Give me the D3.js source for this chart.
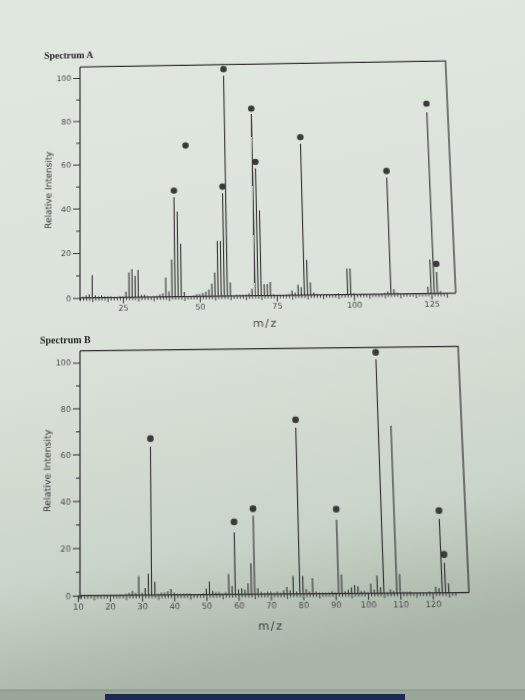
<!DOCTYPE html>
<html><head><meta charset="utf-8">
<script src="https://cdn.jsdelivr.net/npm/d3@7/dist/d3.min.js"></script>
<style>
html,body{margin:0;padding:0;background:#d8dfd6;overflow:hidden;}
#bgsvg,#c{position:absolute;left:0;top:0;}
#c{transform-origin:0 0;}
</style>
</head><body>
<svg id="bgsvg" width="525" height="700"></svg>
<svg id="c" width="525" height="700"></svg>
<script>
// ---------- DATA ----------
const titleA = "Spectrum A";
const mzA  = [12,13,14,15,16,17,18,19,20,21,24,25,26,27,28,29,30,31,32,33,35,36,37,38,39,40,41,42,43,44,45,48,49,50,51,52,53,54,55,56,57,58,59,60,62,63,64,65,66,67,68,69,70,71,72,73,74,79,80,81,82,83,84,85,86,87,88,95,98,99,100,110,111,112,113,114,124,125,126,127,128];
const intA = [0.5,1,1.5,10,1,0.5,1,0.5,0.5,0.5,0.5,0.5,2.5,11,12.5,9.5,12,1,1,0.5,0.5,0.5,1,1.5,8.5,2.3,16.5,44.5,38,23.5,2,0.5,1,1,1.5,2,3,5.5,10.5,24.5,24.5,46,100,6,0.5,0.5,0.5,0.5,1,3,82,57,38,5,5,6,0.5,0.5,2,1,4.5,3.5,68,15.5,5.5,1,0.5,0.5,11.5,11.5,0.5,0.5,1,52,2,0.5,3,15,81.5,9.5,1];
const dotMzA  = [42,46,58,59,68,69,84,112,126,127];
const dotIntA = [47.5,68,49,103,84.5,60,71,55,85.5,13];
const xTicksA = [25,50,75,100,125];

const titleB = "Spectrum B";
const mzB  = [25,26,27,28,29,30,31,32,33,34,35,36,37,38,39,40,41,42,43,44,45,49,50,51,52,53,54,55,56,57,58,59,60,61,62,63,64,65,66,67,68,69,70,71,72,73,74,75,76,77,78,79,80,81,82,83,84,85,86,87,88,89,90,91,92,93,94,95,96,97,98,99,100,101,102,103,104,105,106,107,108,109,110,111,112,113,119,121,122,123,124,125];
const intB = [0.5,1,1.8,1,8,1,3,9,63,5.5,0.5,1,1,1.5,2.5,1,0.5,0.5,0.5,0.5,0.5,0.5,2.5,5.5,1.5,1,1,0.5,1,8.5,3.5,26,2,2.5,2,4.5,13,33,2.5,1,0.5,1,1,0.5,1,0.5,1.5,3,1.5,7.5,1,70.5,7.5,2,1,6.5,1,0.5,0.5,0.5,0.5,1,0.5,31,8,1,1.5,2.5,3.5,3,1,1,0.5,4,1.5,7.5,2.5,100,0.5,1.5,1,71,8,0.5,0.5,0.5,0.5,2.5,2,31,12.5,4];
const dotMzB  = [33,59,65,79,91,105,123,124];
const dotIntB = [66.5,30.5,36,74,35.5,103,34.5,16];
const xTicksB = [10,20,30,40,50,60,70,80,90,100,110,120];

const yTicks = [0,20,40,60,80,100];
const yMinorTicks = [10,30,50,70,90];
const xLabel = "m/z";
const yLabel = "Relative Intensity";

// ---------- PHOTO BACKGROUND ----------
const bg = d3.select("#bgsvg");
const bdefs = bg.append("defs");
const grad = bdefs.append("linearGradient").attr("id","bg").attr("x1","0").attr("y1","0").attr("x2","0.15").attr("y2","1");
[["0","#e1e8e0"],["0.5","#dbe2d9"],["0.82","#cbd4ca"],["1","#a9b5a8"]].forEach(s=>grad.append("stop").attr("offset",s[0]).attr("stop-color",s[1]));
bg.append("rect").attr("width",525).attr("height",700).attr("fill","url(#bg)");
bg.append("rect").attr("x",0).attr("y",690).attr("width",525).attr("height",10).attr("fill","#9aa69a");
bg.append("line").attr("x1",0).attr("x2",525).attr("y1",690).attr("y2",690).attr("stroke","#7f8a80").attr("stroke-width",0.8);
bg.append("rect").attr("x",105).attr("y",694).attr("width",300).attr("height",6).attr("fill","#1d2a55");

// ---------- CHART (flat page, then photographed with perspective) ----------
const svg = d3.select("#c");
const ink = "#2f2f2f";

function panel(cfg){
  const g = svg.append("g");
  const x = d3.scaleLinear().domain(cfg.xDomain).range([cfg.left, cfg.right]);
  const y = d3.scaleLinear().domain([0,100]).range([cfg.base, cfg.y100]);

  g.append("text").attr("x", cfg.titleX).attr("y", cfg.titleY)
    .attr("font-family","Liberation Serif, Times New Roman, serif").attr("font-size",10)
    .attr("font-weight","bold").attr("fill","#262626").text(cfg.title);

  g.append("path")
    .attr("d", `M${cfg.left},${cfg.top} L${cfg.right},${cfg.top} L${cfg.right},${cfg.base}`)
    .attr("fill","none").attr("stroke",ink).attr("stroke-width",1.2);

  const lo = Math.ceil(cfg.xDomain[0]), hi = Math.floor(cfg.xTickEnd);
  const unitTicks = d3.range(lo, hi+1);
  const ax1 = d3.axisBottom(x).tickValues(unitTicks.filter(v => v%5!==0)).tickSize(3).tickFormat("");
  const ax5 = d3.axisBottom(x).tickValues(unitTicks.filter(v => v%5===0 && !cfg.xTicks.includes(v))).tickSize(4.5).tickFormat("");
  const axL = d3.axisBottom(x).tickValues(cfg.xTicks).tickSize(6).tickPadding(2).tickFormat(d3.format("d"));
  [ax1, ax5].forEach(a => {
    const ga = g.append("g").attr("transform",`translate(0,${cfg.base})`).call(a);
    ga.select(".domain").remove();
    ga.selectAll("line").attr("stroke",ink).attr("stroke-width",0.9);
  });
  const gx = g.append("g").attr("transform",`translate(0,${cfg.base})`).call(axL);
  gx.select(".domain").remove();
  gx.selectAll("line").attr("stroke",ink).attr("stroke-width",1);
  gx.selectAll("text").attr("font-family","DejaVu Sans, Verdana, sans-serif").attr("font-size",8).attr("fill","#4a4a4a");
  g.append("line").attr("x1",cfg.left).attr("x2",cfg.right).attr("y1",cfg.base).attr("y2",cfg.base)
    .attr("stroke",ink).attr("stroke-width",1.2);

  const ay = d3.axisLeft(y).tickValues(yTicks).tickSize(7).tickPadding(2).tickFormat(d3.format("d"));
  const gy = g.append("g").attr("transform",`translate(${cfg.left},0)`).call(ay);
  gy.select(".domain").remove();
  gy.selectAll("line").attr("stroke",ink).attr("stroke-width",1);
  gy.selectAll("text").attr("font-family","DejaVu Sans, Verdana, sans-serif").attr("font-size",8).attr("fill","#4a4a4a");
  const aym = d3.axisLeft(y).tickValues(yMinorTicks).tickSize(4).tickFormat("");
  const gym = g.append("g").attr("transform",`translate(${cfg.left},0)`).call(aym);
  gym.select(".domain").remove();
  gym.selectAll("line").attr("stroke",ink).attr("stroke-width",1);
  g.append("line").attr("x1",cfg.left).attr("x2",cfg.left).attr("y1",cfg.top).attr("y2",cfg.base+3)
    .attr("stroke",ink).attr("stroke-width",1.2);

  g.append("text").attr("transform",`translate(${cfg.yLabelX},${cfg.yLabelY}) rotate(-90)`)
    .attr("text-anchor","middle").attr("font-family","DejaVu Sans, Verdana, sans-serif").attr("font-size",9.2)
    .attr("fill","#3a3a3a").text(yLabel);
  g.append("text").attr("x",cfg.xLabelX).attr("y",cfg.xLabelY).attr("text-anchor","middle")
    .attr("font-family","DejaVu Sans, Verdana, sans-serif").attr("font-size",11).attr("letter-spacing",1.5)
    .attr("fill","#3a3a3a").text(xLabel);

  g.append("g").selectAll("line").data(cfg.mz.map((m,i)=>({m, v:cfg.int[i]}))).join("line")
    .attr("x1",d=>x(d.m)).attr("x2",d=>x(d.m))
    .attr("y1",y(0)).attr("y2",d=>y(d.v))
    .attr("stroke",ink).attr("stroke-width",1.1);

  g.append("g").selectAll("circle").data(cfg.dm.map((m,i)=>({m, v:cfg.dv[i]}))).join("circle")
    .attr("cx",d=>x(d.m)).attr("cy",d=>y(d.v)).attr("r",3.3).attr("fill","#3a3a3a");
}

panel({title:titleA, titleX:43, titleY:57, left:80, right:455, top:66.3, base:305.6, y100:78,
  xDomain:[11.0,132.9], xTickEnd:130, xTicks:xTicksA, mz:mzA, int:intA, dm:dotMzA, dv:dotIntA,
  yLabelX:51, yLabelY:195, xLabelX:265, xLabelY:337});

panel({title:titleB, titleX:40, titleY:351, left:80, right:455, top:358.7, base:595.7, y100:370.4,
  xDomain:[10.67,131.2], xTickEnd:127, xTicks:xTicksB, mz:mzB, int:intB, dm:dotMzB, dv:dotIntB,
  yLabelX:51, yLabelY:476, xLabelX:264, xLabelY:629});

// ---------- camera perspective of the photographed page ----------
function homography(src, dst){
  const A = [], b = [];
  for (let i=0;i<4;i++){
    const [u,v] = src[i], [X,Y] = dst[i];
    A.push([u,v,1,0,0,0,-u*X,-v*X]); b.push(X);
    A.push([0,0,0,u,v,1,-u*Y,-v*Y]); b.push(Y);
  }
  const n = 8;
  for (let c=0;c<n;c++){
    let p=c; for (let r=c+1;r<n;r++) if (Math.abs(A[r][c])>Math.abs(A[p][c])) p=r;
    [A[c],A[p]]=[A[p],A[c]]; [b[c],b[p]]=[b[p],b[c]];
    for (let r=0;r<n;r++){ if(r===c) continue; const f=A[r][c]/A[c][c];
      for (let k=c;k<n;k++) A[r][k]-=f*A[c][k]; b[r]-=f*b[c]; }
  }
  return b.map((v,i)=>v/A[i][i]);
}
const h = homography([[80,78],[455,78],[455,596],[80,596]],
                     [[80,78],[446,72],[469,593],[80,596]]);
document.getElementById("c").style.transform =
  `matrix3d(${h[0]},${h[3]},0,${h[6]},${h[1]},${h[4]},0,${h[7]},0,0,1,0,${h[2]},${h[5]},0,1)`;
</script>
</body></html>
